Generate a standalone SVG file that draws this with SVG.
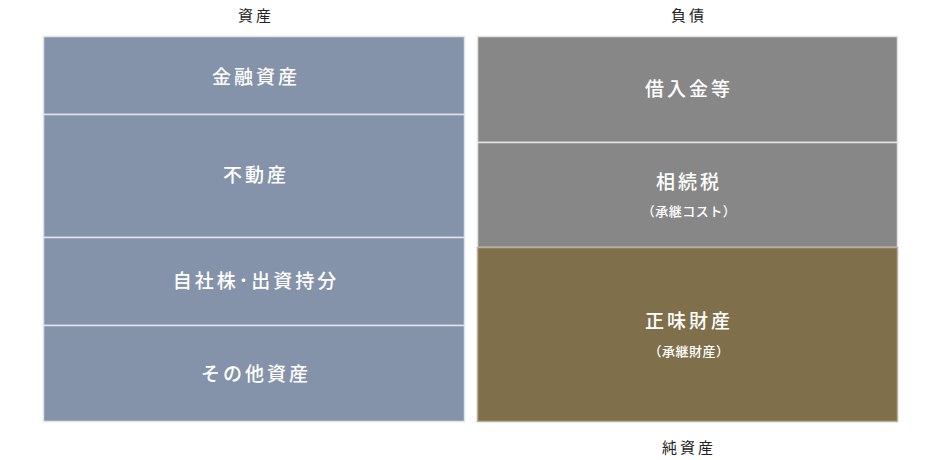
<svg xmlns="http://www.w3.org/2000/svg" width="942" height="460" viewBox="0 0 942 460">
<style>
.hd{font-family:"Liberation Serif","Noto Sans CJK JP",serif;font-size:15px;fill:#222;text-anchor:middle;letter-spacing:3px}
.lb{font-family:"Liberation Serif","Noto Sans CJK JP",serif;font-size:19px;fill:#fff;text-anchor:middle;letter-spacing:3px;font-weight:500}
.sm{font-family:"Liberation Serif","Noto Sans CJK JP",serif;font-size:13px;fill:#fff;text-anchor:middle;letter-spacing:0.5px;font-weight:500}
.a{fill:#8593aa;stroke:#dfe3ea;stroke-width:1.5}
.l{fill:#878787;stroke:#e4e4e4;stroke-width:1.5}
.n{fill:#7f6f4a;stroke:#b8ae98;stroke-width:1.5}
</style>
<rect width="942" height="460" fill="#fff"/>
<text class="hd" x="256" y="21">資産</text>
<text class="hd" x="689" y="21">負債</text>
<text class="hd" x="689" y="453">純資産</text>
<g id="kinyu"><rect class="a" x="43.5" y="36.5" width="421" height="78"/><text class="lb" x="256" y="84">金融資産</text></g>
<g id="fudosan"><rect class="a" x="43.5" y="114.5" width="421" height="123"/><text class="lb" x="256" y="182">不動産</text></g>
<g id="jishakabu"><rect class="a" x="43.5" y="237.5" width="421" height="88"/><text class="lb" x="256" y="288">自社株･出資持分</text></g>
<g id="sonota"><rect class="a" x="43.5" y="325.5" width="421" height="96"/><text class="lb" x="256" y="381">その他資産</text></g>
<g id="kariire"><rect class="l" x="477.5" y="36.5" width="420" height="106"/><text class="lb" x="689" y="96">借入金等</text></g>
<g id="sozokuzei"><rect class="l" x="477.5" y="142.5" width="420" height="105"/><text class="lb" x="689" y="189">相続税</text><text class="sm" x="689" y="216">（承継コスト）</text></g>
<g id="shomi"><rect class="n" x="477.5" y="247.5" width="420" height="174"/><text class="lb" x="689" y="328">正味財産</text><text class="sm" x="689" y="356">（承継財産）</text></g>
<g id="connectors"></g>
</svg>
